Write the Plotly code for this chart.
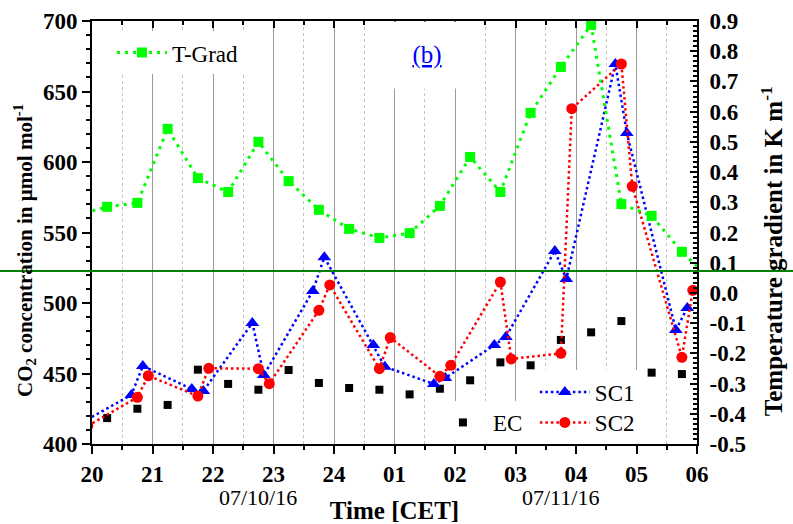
import plotly.graph_objects as go

# hours since 20:00 (07/10/16)
tick_vals = [0, 1, 2, 3, 4, 5, 6, 7, 8, 9, 10]
tick_text = ["20", "21", "22", "23", "24", "01", "02", "03", "04", "05", "06"]

tgrad_hours = [-0.25, 0.25, 0.75, 1.25, 1.75, 2.25, 2.75, 3.25, 3.75, 4.25, 4.75,
               5.25, 5.75, 6.25, 6.75, 7.25, 7.75, 8.25, 8.75, 9.25, 9.75, 10.25]
tgrad = [0.258, 0.285, 0.298, 0.543, 0.38, 0.334, 0.50, 0.37, 0.275, 0.212, 0.182,
         0.198, 0.288, 0.45, 0.334, 0.596, 0.748, 0.887, 0.294, 0.255, 0.136, 0.04]

ec_hours = [0.25, 0.75, 1.25, 1.75, 2.25, 2.75, 3.25, 3.75, 4.25, 4.75,
            5.25, 5.75, 6.25, 6.75, 7.25, 7.75, 8.25, 8.75, 9.25, 9.75]
ec = [418.4, 425.0, 427.7, 452.7, 442.6, 438.5, 452.5, 443.3, 439.7, 438.5,
      435.2, 439.2, 445.2, 457.9, 455.8, 473.8, 479.2, 487.2, 450.6, 449.6]

sc1_hours = [-0.16, 0.65, 0.84, 1.65, 1.84, 2.65, 2.84, 3.65, 3.84, 4.65, 4.84,
             5.65, 5.84, 6.65, 6.84, 7.65, 7.84, 8.65, 8.84, 9.65, 9.84]
sc1 = [415.4, 434.8, 455.3, 439.0, 437.6, 485.8, 448.9, 508.5, 532.5, 470.2, 454.8,
       442.6, 446.8, 470.2, 475.9, 536.9, 517.0, 669.5, 620.6, 480.9, 496.5]

sc2_hours = [-0.07, 0.75, 0.93, 1.75, 1.93, 2.75, 2.93, 3.75, 3.93, 4.75, 4.93,
             5.75, 5.93, 6.75, 6.93, 7.75, 7.93, 8.75, 8.93, 9.75, 9.93]
sc2 = [412.9, 433.1, 448.4, 434.0, 453.7, 453.4, 442.8, 494.8, 512.8, 453.4, 475.5,
       448.0, 455.8, 514.9, 460.3, 464.3, 637.8, 669.5, 582.8, 461.5, 509.0]

right_vals = [-0.5, -0.4, -0.3, -0.2, -0.1, 0.0, 0.1, 0.2, 0.3, 0.4, 0.5, 0.6, 0.7, 0.8, 0.9]
right_text = ["-0.5", "-0.4", "-0.3", "-0.2", "-0.1", "0.0", "0.1", "0.2", "0.3",
              "0.4", "0.5", "0.6", "0.7", "0.8", "0.9"]

SERIF = "Liberation Serif, Times New Roman, serif"
tick_font = dict(family=SERIF, size=23, color="black", weight="bold")
leg_font = dict(family=SERIF, size=23, color="black")

fig = go.Figure()
fig.add_trace(go.Scatter(x=ec_hours, y=ec, mode="markers", name="EC",
                         marker=dict(symbol="square", size=8, color="black"),
                         legend="legend2"))
fig.add_trace(go.Scatter(x=sc1_hours, y=sc1, mode="lines+markers", name="SC1",
                         line=dict(color="#0000FF", width=2.5, dash="2.5px,3px"),
                         marker=dict(symbol="triangle-up", size=12, color="#0000FF"),
                         legend="legend3"))
fig.add_trace(go.Scatter(x=sc2_hours, y=sc2, mode="lines+markers", name="SC2",
                         line=dict(color="#FF0000", width=2.5, dash="2.5px,3px"),
                         marker=dict(symbol="circle", size=11, color="#FF0000"),
                         legend="legend4"))
fig.add_trace(go.Scatter(x=tgrad_hours, y=tgrad, mode="lines+markers", name="T-Grad",
                         xaxis="x2", yaxis="y2",
                         line=dict(color="#00FF00", width=3, dash="3px,5px"),
                         marker=dict(symbol="square", size=10, color="#00FF00"),
                         legend="legend"))

leg_common = dict(bgcolor="white", font=leg_font, itemwidth=50, borderwidth=0)

fig.update_layout(
    width=793, height=524,
    margin=dict(l=92, r=96, t=21, b=80),
    paper_bgcolor="white", plot_bgcolor="white",
    font=dict(family=SERIF, color="black"),
    xaxis=dict(
        range=[0, 10], tickmode="array", tickvals=tick_vals, ticktext=tick_text,
        ticks="outside", ticklen=8, tickwidth=2, tickcolor="black",
        showline=True, linewidth=2, linecolor="black", zeroline=False,
        showgrid=True, gridcolor="#9a9a9a", gridwidth=1,
        minor=dict(tickmode="linear", tick0=0, dtick=0.5, ticks="outside", ticklen=4,
                   tickwidth=1.5, tickcolor="black", showgrid=True,
                   gridcolor="#c4c4c4", gridwidth=1, griddash="dot"),
        tickfont=tick_font, automargin=False,
        title=dict(text="Time [CET]", font=dict(family=SERIF, size=25, weight="bold"),
                   standoff=24),
    ),
    xaxis2=dict(
        range=[0, 10], overlaying="x", side="top", anchor="y2", matches="x",
        tickmode="array", tickvals=tick_vals, showticklabels=False,
        ticks="inside", ticklen=7, tickwidth=2, tickcolor="black",
        showline=True, linewidth=2, linecolor="black", showgrid=False, zeroline=False,
        minor=dict(tickmode="linear", tick0=0, dtick=0.5, ticks="inside", ticklen=4,
                   tickwidth=1.5, tickcolor="black", showgrid=False),
        automargin=False,
    ),
    yaxis=dict(
        range=[400, 700], tickmode="linear", tick0=400, dtick=50,
        ticks="outside", ticklen=8, tickwidth=2, tickcolor="black",
        showline=True, linewidth=2, linecolor="black", zeroline=False, showgrid=False,
        minor=dict(tickmode="linear", tick0=400, dtick=10, ticks="outside", ticklen=4,
                   tickwidth=1.5, tickcolor="black", showgrid=False),
        tickfont=tick_font, automargin=False,
    ),
    yaxis2=dict(
        range=[-0.5, 0.9], overlaying="y", side="right", anchor="x2",
        tickmode="array", tickvals=right_vals, ticktext=right_text,
        ticks="inside", ticklen=7, tickwidth=2, tickcolor="black",
        ticklabelstandoff=6,
        showline=True, linewidth=2, linecolor="black", zeroline=False, showgrid=False,
        minor=dict(tickmode="linear", tick0=-0.5, dtick=1 / 60, ticks="inside", ticklen=4,
                   tickwidth=1.5, tickcolor="black", showgrid=False),
        tickfont=tick_font, automargin=False,
    ),
    legend=dict(x=0.033, y=0.976, xanchor="left", yanchor="top", **leg_common),
    legend2=dict(x=0.5635, y=0, xanchor="left", yanchor="bottom", **leg_common),
    legend3=dict(x=0.732, y=0.123, xanchor="left", yanchor="middle", **leg_common),
    legend4=dict(x=0.732, y=0, xanchor="left", yanchor="bottom", **leg_common),
    showlegend=True,
)

# axis titles
fig.add_annotation(xref="paper", yref="paper", x=-0.1124, y=0.4586,
                   xanchor="center", yanchor="middle", textangle=-90,
                   text="CO<sub>2</sub> concentration in µmol mol<sup>-1</sup>",
                   showarrow=False,
                   font=dict(family=SERIF, size=21, color="black", weight="bold"))
fig.add_annotation(xref="paper", yref="paper", x=1.124, y=0.456,
                   xanchor="center", yanchor="middle", textangle=-90,
                   text="Temperature gradient in K m<sup>-1</sup>",
                   showarrow=False,
                   font=dict(family=SERIF, size=25, color="black", weight="bold"))

fig.add_annotation(xref="paper", yref="paper", x=0.554, y=1, xanchor="center",
                   yanchor="top", text="<u>(b)</u>", showarrow=False,
                   font=dict(family=SERIF, size=25, color="#0000FF"),
                   bgcolor="white", width=76, height=66, borderpad=0)
fig.add_annotation(xref="x", yref="paper", x=2.74, y=-0.127, yanchor="middle",
                   text="07/10/16", showarrow=False,
                   font=dict(family=SERIF, size=22, color="black"))
fig.add_annotation(xref="x", yref="paper", x=7.75, y=-0.127, yanchor="middle",
                   text="07/11/16", showarrow=False,
                   font=dict(family=SERIF, size=22, color="black"))

fig.add_shape(type="line", xref="paper", yref="paper", x0=-0.2, x1=1.2,
              y0=0.409, y1=0.409, line=dict(color="#008000", width=2))

fig.write_html("out.html")
